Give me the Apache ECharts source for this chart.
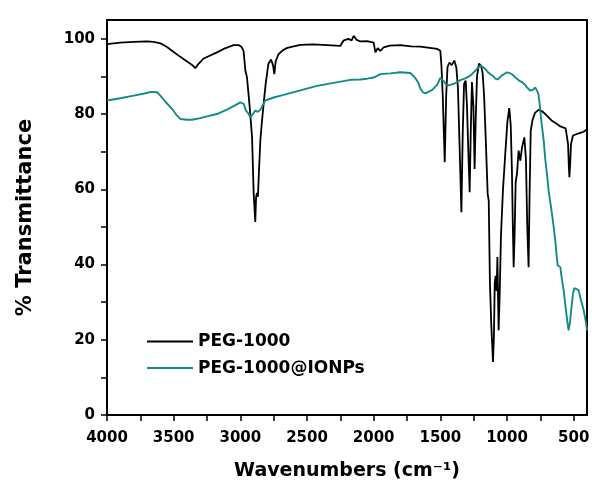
<!DOCTYPE html>
<html>
<head>
<meta charset="utf-8">
<script src="https://cdn.jsdelivr.net/npm/echarts@6/dist/echarts.min.js"></script>
<style>
html,body{margin:0;padding:0;background:#fff;}
#chart{width:592px;height:495px;}
</style>
</head>
<body>
<div id="chart"></div>
<script>
// ---- Data ----
const seriesNames = ['PEG-1000', 'PEG-1000@IONPs'];

const pegX = [4000,3900,3800,3700,3650,3600,3550,3500,3450,3400,3360,3338,3310,3278,3230,3175,3120,3052,3010,2990,2976,2962,2950,2930,2912,2900,2888,2882,2875,2868,2860,2850,2838,2825,2810,2790,2770,2755,2745,2735,2714,2680,2648,2600,2550,2450,2350,2250,2227,2190,2165,2150,2130,2100,2050,2000,1987,1970,1950,1925,1880,1800,1720,1650,1580,1523,1500,1492,1482,1467,1456,1446,1432,1415,1395,1380,1368,1356,1342,1332,1322,1310,1300,1290,1280,1272,1263,1252,1243,1235,1225,1210,1195,1183,1172,1160,1145,1137,1128,1118,1105,1098,1092,1085,1078,1072,1063,1055,1045,1030,1012,997,983,972,963,956,950,943,935,925,913,900,887,870,858,848,838,831,822,808,790,763,740,713,690,663,630,600,560,550,542,536,532,526,520,505,490,475,450,425,400];
const pegY = [98.6,99.0,99.2,99.3,99.2,98.8,97.8,96.5,95.2,94.0,93.0,92.2,93.5,94.7,95.5,96.4,97.4,98.3,98.3,97.8,96.8,91.5,89.7,82,73.8,58.9,51.3,57.9,59,58,65,72.9,78,82.8,88,93.3,94.5,93,90.6,94,95.9,97,97.6,98,98.4,98.5,98.3,98.1,99.5,100.0,99.6,100.8,99.8,99.3,99.4,99.0,96.4,97.5,96.8,97.7,98.2,98.3,98.0,97.9,97.6,97.3,96.8,93,85,67.2,85,92.5,93.7,93.0,94.2,92.4,87,72,53.9,75,88,88.9,82,70,59.2,75,88.5,82,65.4,78,90,93.4,92.8,91,85,74,58.8,57,35,24,14.1,21,35,37,33,42,22.5,32,48,60,70,78,81.6,77,65,50,39.3,48,62,64.1,70.3,67.6,71.2,73.8,68,50,39.3,58,75.6,78.5,80.3,81.1,80.8,80.0,79.2,78.2,77.5,76.7,76.2,75.8,72,66,63.2,67,72,74.3,74.8,74.7,75.0,75.3,76];

const ionX = [4000,3900,3800,3700,3675,3625,3600,3560,3513,3480,3450,3400,3363,3300,3250,3175,3100,3040,3000,2975,2958,2940,2925,2910,2888,2870,2850,2830,2813,2750,2675,2550,2425,2300,2175,2100,2050,2000,1950,1875,1800,1725,1688,1665,1650,1630,1613,1590,1560,1523,1500,1485,1470,1462,1440,1425,1400,1388,1350,1313,1275,1238,1220,1200,1180,1163,1145,1125,1100,1088,1070,1063,1040,1025,1000,980,960,940,925,905,885,865,850,835,825,812,803,788,775,765,755,745,735,725,713,700,688,675,663,650,638,628,620,610,600,588,575,560,548,538,528,518,505,495,483,463,445,425,410,400];
const ionY = [83.6,84.2,84.9,85.6,85.9,85.8,84.9,83.2,81.4,79.8,78.7,78.5,78.5,78.9,79.4,80.0,81.2,82.3,83.1,82.7,80.9,80.2,79.1,79.8,80.9,80.6,81.1,82.5,83.6,84.4,85.1,86.3,87.5,88.3,89.1,89.2,89.4,89.7,90.6,90.8,91.1,90.9,89.6,88.3,86.8,85.8,85.5,85.9,86.4,87.8,89.6,89.7,88.6,88.0,87.6,87.5,88.0,88.4,89.0,89.5,90.2,91.5,92.2,92.8,92.5,92.0,91.2,90.6,90.0,89.4,89.2,89.4,90.2,90.6,91.1,90.9,90.5,89.8,89.3,88.8,88.4,87.8,87.1,86.6,86.2,86.4,86.5,87.1,86.6,85.5,82.7,79,76,73,68,64,59.7,56.5,53.5,50,46.4,42.5,39.8,39.5,39.3,36,33.2,28.5,25,22.5,24.5,28,32.3,33.7,34,33.2,30.5,27.9,25,22.5];

const xLabelValues = [4000,3500,3000,2500,2000,1500,1000,500];
const xTickValues = [4000,3750,3500,3250,3000,2750,2500,2250,2000,1750,1500,1250,1000,750,500];
const yLabelValues = [0,20,40,60,80,100];
const yTickValues = [0,10,20,30,40,50,60,70,80,90,100];

const xTitle = 'Wavenumbers (cm\u207B\u00B9)';
const yTitle = '% Transmittance';

// ---- Chart ----
const zip = (xs, ys) => xs.map((x, i) => [x, ys[i]]);
const FONT = 'DejaVu Sans';
const colors = ['#000000', '#138a8a'];
const chart = echarts.init(document.getElementById('chart'), null, {renderer: 'canvas'});
chart.setOption({
  animation: false,
  backgroundColor: '#ffffff',
  grid: {left: 107, right: 5, top: 20, bottom: 80, outerBoundsMode: 'none', containLabel: false,
         show: true, borderColor: '#000', borderWidth: 2, backgroundColor: 'transparent'},
  legend: {
    data: seriesNames.map((n, i) => ({name: n, icon: 'rect', itemStyle: {color: colors[i]}})),
    orient: 'vertical',
    left: 142,
    top: 326.5,
    itemWidth: 46,
    itemHeight: 2,
    itemGap: 6.6,
    textStyle: {fontFamily: FONT, fontWeight: 'bold', fontSize: 17, lineHeight: 20, color: '#000'}
  },
  xAxis: {
    type: 'value', inverse: true, min: 400, max: 4000,
    name: xTitle, nameLocation: 'middle', nameGap: 47,
    nameTextStyle: {fontFamily: FONT, fontWeight: 'bold', fontSize: 19, color: '#000'},
    axisLine: {show: true, onZero: false, lineStyle: {color: '#000', width: 2}},
    axisTick: {show: true, customValues: xTickValues, length: 6, lineStyle: {color: '#000', width: 1.5}},
    axisLabel: {customValues: xLabelValues, formatter: v => String(v), margin: 16,
                fontFamily: FONT, fontWeight: 'bold', fontSize: 15, color: '#000'},
    splitLine: {show: false}
  },
  yAxis: {
    type: 'value', min: 0, max: 105,
    name: yTitle, nameLocation: 'middle', nameGap: 71, nameRotate: 90,
    nameTextStyle: {fontFamily: FONT, fontWeight: 'bold', fontSize: 21, color: '#000'},
    axisLine: {show: true, onZero: false, lineStyle: {color: '#000', width: 2}},
    axisTick: {show: true, customValues: yTickValues, length: 6, lineStyle: {color: '#000', width: 1.5}},
    axisLabel: {customValues: yLabelValues, formatter: v => String(v), margin: 12,
                fontFamily: FONT, fontWeight: 'bold', fontSize: 15, color: '#000'},
    splitLine: {show: false}
  },
  series: [
    {name: seriesNames[0], type: 'line', data: zip(pegX, pegY), symbol: 'none', color: colors[0],
     lineStyle: {color: colors[0], width: 1.8}},
    {name: seriesNames[1], type: 'line', data: zip(ionX, ionY), symbol: 'none', color: colors[1],
     lineStyle: {color: colors[1], width: 1.9}}
  ]
});
</script>
</body>
</html>
